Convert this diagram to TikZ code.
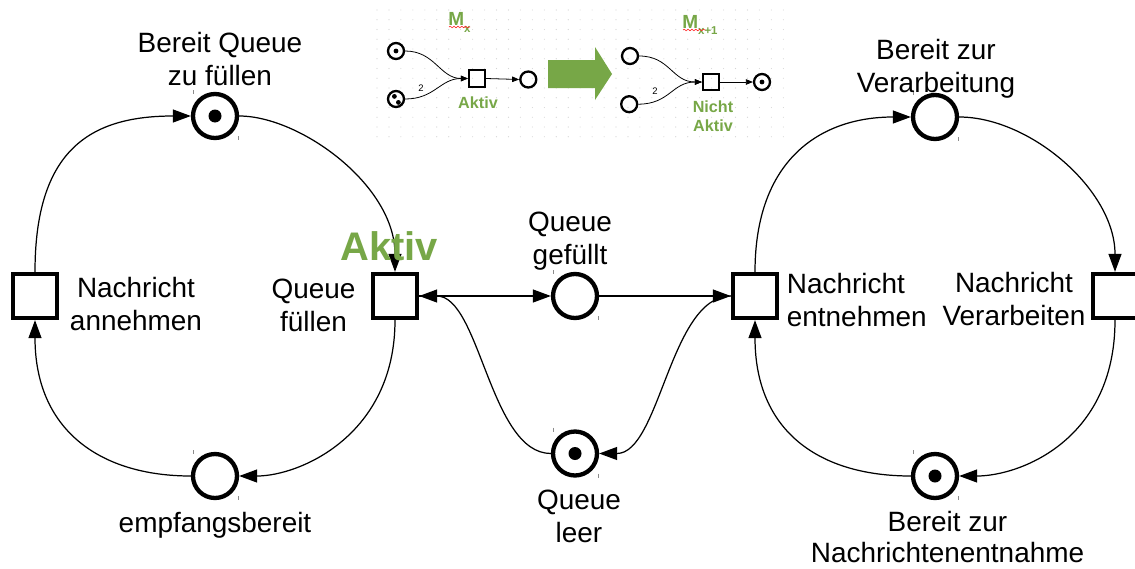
\documentclass[tikz,border=0pt]{standalone}
\usepackage{fontspec}
\setmainfont{Liberation Sans}
\usetikzlibrary{arrows.meta,decorations.pathmorphing}
\definecolor{leaf}{RGB}{119,167,71}
\begin{document}
\begin{tikzpicture}[x=0.02cm, y=-0.02cm,
  place/.style={circle, draw, line width=2.45pt, minimum size=0.88cm, inner sep=0pt},
  trans/.style={rectangle, draw, line width=2.45pt, minimum size=0.88cm, inner sep=0pt},
  arc/.style={line width=0.7pt, -{Triangle[length=0.36cm,width=0.26cm]}},
  lbl/.style={font=\fontsize{15.9pt}{18.7pt}\selectfont, inner sep=0pt, align=center},
  tick/.style={draw=black!45, line width=0.5pt},
  mplace/.style={circle, draw, line width=1.3pt, minimum size=0.32cm, inner sep=0pt},
  mtrans/.style={rectangle, draw, line width=1.1pt, minimum size=0.326cm, inner sep=0pt},
  marc/.style={line width=0.45pt, -{Triangle[length=0.14cm,width=0.11cm]}},
  mlbl/.style={font=\bfseries\fontsize{9.2pt}{10.8pt}\selectfont, text=leaf, inner sep=0pt, align=center},
  weight/.style={font=\fontsize{5.4pt}{6pt}\selectfont, inner sep=0pt}
]
\useasboundingbox (0,0) rectangle (1135,568);
\clip (0,0) rectangle (1135,568);
\fill[white] (0,0) rectangle (1135,568);

% ---------- small example: marking M_x -> M_{x+1} ----------
\foreach \i in {0,...,34}
  \foreach \j in {0,...,13}
    \fill[black!17] (377+11.95*\i, 10+9.75*\j) circle[radius=0.011cm];

\node[anchor=base west, inner sep=0pt, text=leaf, font=\bfseries\fontsize{10.8pt}{12pt}\selectfont]
  (mx) at (448,25) {M\raisebox{-4.1pt}{\fontsize{6.5pt}{7pt}\selectfont x}};
\draw[red!85, line width=0.35pt, decorate, decoration={snake, amplitude=0.45pt, segment length=2.2pt}]
  (449,27) -- (470,27);
\node[anchor=base west, inner sep=0pt, text=leaf, font=\bfseries\fontsize{10.8pt}{12pt}\selectfont]
  (mx1) at (682,28.3) {M\raisebox{-3.8pt}{\fontsize{6.5pt}{7pt}\selectfont x+1}};
\draw[red!85, line width=0.35pt, decorate, decoration={snake, amplitude=0.45pt, segment length=2.2pt}]
  (683,30) -- (705,30);

% before firing
\node[mplace] (ia) at (396,51) {};
\node[mplace] (ib) at (396,99) {};
\node[mtrans] (it) at (477,78.5) {};
\node[mplace] (io) at (528.3,79.5) {};
\fill (ia.center) circle[radius=0.048cm];
\fill ([shift={(-1.6,-2.6)}]ib.center) circle[radius=0.048cm];
\fill ([shift={(2.4,3.4)}]ib.center) circle[radius=0.048cm];
\draw[marc] (ia.east) .. controls (435,51) and (440,78.5) .. (it.west);
\draw[marc] (ib.east) .. controls (435,99) and (440,78.5) .. (it.west);
\draw[marc] (it.east) -- (io.west);
\node[weight] (iw1) at (421,88.3) {2};
\node[mlbl, anchor=base] (ila) at (478,108.3) {Aktiv};

% the step arrow
\fill[leaf] (548,60) -- (595,60) -- (595,47) -- (612,74) -- (595,100) -- (595,88) -- (548,88) -- cycle;

% after firing
\node[mplace] (ic) at (630,56) {};
\node[mplace] (id) at (629.2,104.2) {};
\node[mtrans] (iu) at (711,82) {};
\node[mplace] (iv) at (762,82) {};
\fill (iv.center) circle[radius=0.048cm];
\draw[marc] (ic.east) .. controls (670,56) and (672,82) .. (iu.west);
\draw[marc] (id.east) .. controls (670,104) and (672,82) .. (iu.west);
\draw[marc] (iu.east) -- (iv.west);
\node[weight] (iw2) at (655,90.7) {2};
\node[mlbl, anchor=north] (ilb) at (713,100) {Nicht\\Aktiv};

% ---------- main net ----------
\node[place] (p1) at (215,116) {};
\node[place] (p2) at (215,476) {};
\node[place] (p3) at (575,296) {};
\node[place] (p4) at (575,453.5) {};
\node[place] (p5) at (935,117) {};
\node[place] (p6) at (935,476) {};

\node[trans] (t1) at (35,296) {};
\node[trans] (t2) at (395,296) {};
\node[trans] (t3) at (755,296) {};
\node[trans] (t4) at (1115,296) {};

% tokens
\foreach \p in {p1,p4,p6}
  \fill (\p.center) circle[radius=0.13cm];

% small handles beside the places
\foreach \p in {p1,p2,p3,p4,p5,p6}{
  \draw[tick] ([shift={(-22,-26)}]\p.center) -- ++(0,4);
  \draw[tick] ([shift={(23,20)}]\p.center) -- ++(0,4);
}

% arcs, left cycle
\draw[arc] (t1.north) .. controls (35,150) and (90,116) .. (p1.west);
\draw[arc] (p1.east) .. controls (300,116) and (395,185) .. (t2.north);
\draw[arc] (t2.south) .. controls (395,435) and (300,476) .. (p2.east);
\draw[arc] (p2.west) .. controls (100,476) and (35,430) .. (t1.south);

% arcs, middle
\draw[arc] (t2.east) -- (p3.west);
\draw[arc] (p3.east) -- (t3.west);
\draw[arc] (p4.west) .. controls (490,453.5) and (480,296) .. (t2.east);
\draw[arc] (t3.west) .. controls (670,296) and (660,453.5) .. (p4.east);

% arcs, right cycle
\draw[arc] (t3.north) .. controls (755,160) and (820,117) .. (p5.west);
\draw[arc] (p5.east) .. controls (1030,117) and (1115,190) .. (t4.north);
\draw[arc] (t4.south) .. controls (1115,440) and (1020,476) .. (p6.east);
\draw[arc] (p6.west) .. controls (820,476) and (755,432) .. (t3.south);

% labels
\node[lbl, anchor=north] (l1) at (220,31.7) {Bereit Queue\\zu füllen};
\node[lbl, anchor=base] (l2) at (215,532) {empfangsbereit};
\node[lbl, anchor=north] (l3) at (570,211.7) {Queue\\gefüllt};
\node[lbl, anchor=north] (l4) at (579,490) {Queue\\leer};
\node[lbl, anchor=north] (l5) at (936,39.3) {Bereit zur\\Verarbeitung};
\node[lbl, anchor=north, font=\fontsize{15.9pt}{18pt}\selectfont] (l6) at (947.5,510.5) {Bereit zur\\Nachrichtenentnahme};
\node[lbl, anchor=north] (l7) at (136,277.3) {Nachricht\\annehmen};
\node[lbl, anchor=north] (l8) at (313.5,278.3) {Queue\\füllen};
\node[lbl, align=left, anchor=north west] (l9) at (786.5,272.7) {Nachricht\\entnehmen};
\node[lbl, anchor=north] (l10) at (1014,271.7) {Nachricht\\Verarbeiten};

\node[anchor=base, inner sep=0pt, text=leaf, font=\bfseries\fontsize{22.7pt}{26pt}\selectfont]
  (act) at (389,260) {Aktiv};
\end{tikzpicture}
\end{document}
